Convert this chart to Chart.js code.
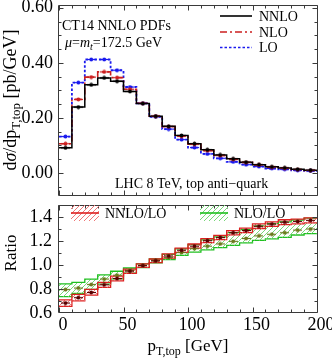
<!DOCTYPE html>
<html><head><meta charset="utf-8">
<script src="https://cdn.jsdelivr.net/npm/chart.js@4/dist/chart.umd.min.js"></script>
<style>
html,body{margin:0;padding:0;background:#fff;}
#wrap{position:relative;width:332px;height:358px;overflow:hidden;}
canvas{position:absolute;left:0;}
#c1{top:0;} #c2{top:200px;}
</style></head><body>
<div id="wrap"><canvas id="c1" width="332" height="201"></canvas><canvas id="c2" width="332" height="158"></canvas></div>
<script>
// ---- data ----
const binEdges = [0,10,20,30,40,50,60,70,80,90,100,110,120,130,140,150,160,170,180,190,200];
const nnlo = [0.091,0.239,0.320,0.345,0.333,0.296,0.252,0.206,0.169,0.136,0.106,0.084,0.065,0.051,0.039,0.030,0.022,0.018,0.013,0.010];
const nlo  = [0.106,0.267,0.348,0.367,0.346,0.304,0.253,0.206,0.168,0.133,0.104,0.081,0.063,0.049,0.038,0.029,0.021,0.017,0.012,0.009];
const lo   = [0.132,0.328,0.412,0.412,0.373,0.312,0.253,0.204,0.159,0.121,0.092,0.069,0.053,0.040,0.030,0.023,0.016,0.013,0.009,0.007];

const nnloLoCentral = [0.683,0.728,0.771,0.835,0.888,0.949,0.995,1.035,1.075,1.123,1.157,1.203,1.229,1.269,1.288,1.323,1.341,1.357,1.362,1.372];
const nnloLoUpper   = [0.709,0.755,0.797,0.856,0.908,0.966,1.010,1.050,1.092,1.140,1.175,1.220,1.247,1.287,1.307,1.342,1.360,1.377,1.382,1.393];
const nnloLoLower   = [0.656,0.701,0.749,0.813,0.868,0.930,0.980,1.020,1.058,1.106,1.140,1.186,1.211,1.251,1.269,1.304,1.322,1.337,1.342,1.351];
const nloLoCentral  = [0.795,0.808,0.837,0.883,0.915,0.955,0.995,1.035,1.064,1.104,1.136,1.157,1.176,1.197,1.221,1.243,1.256,1.269,1.291,1.300];
const nloLoUpper    = [0.843,0.856,0.883,0.917,0.948,0.975,1.010,1.050,1.088,1.135,1.170,1.210,1.235,1.270,1.295,1.325,1.345,1.360,1.375,1.390];
const nloLoLower    = [0.736,0.763,0.797,0.840,0.885,0.932,0.978,1.018,1.044,1.080,1.108,1.126,1.145,1.163,1.185,1.205,1.218,1.230,1.250,1.262];

const topTicks = [0, 0.2, 0.4, 0.6];
const topTickLabels = ['0.00','0.20','0.40','0.60'];
const topMinor = [-0.05,0.05,0.1,0.15,0.25,0.3,0.35,0.45,0.5,0.55];
const ratioTicks = [0.6, 0.8, 1.0, 1.2, 1.4];
const ratioTickLabels = ['0.6','0.8','1.0','1.2','1.4'];
const ratioMinor = [0.7,0.9,1.1,1.3,1.5];
const xTicks = [0, 50, 100, 150, 200];
const xTickLabels = ['0','50','100','150','200'];
const xMinor = [10,20,30,40,60,70,80,90,110,120,130,140,160,170,180,190];

// ---- helpers ----
const SERIF = "'Liberation Serif','Times New Roman',serif";
function stepPts(vals){ const p = vals.map((v,i)=>({x:binEdges[i], y:v})); p.push({x:binEdges[binEdges.length-1], y:vals[vals.length-1]}); return p; }
function centerPts(vals){ return vals.map((v,i)=>({x:(binEdges[i]+binEdges[i+1])/2, y:v})); }
function marker(color){ const c=document.createElement('canvas'); c.width=9; c.height=5; const g=c.getContext('2d');
  g.strokeStyle=color; g.lineWidth=1.2; g.beginPath(); g.moveTo(0,2.5); g.lineTo(9,2.5); g.stroke();
  g.fillStyle=color; g.beginPath(); g.arc(4.5,2.5,1.9,0,Math.PI*2); g.fill(); return c; }
function hatch(ctx,color){ const c=document.createElement('canvas'); c.width=5; c.height=5; const g=c.getContext('2d');
  g.strokeStyle=color; g.lineWidth=1; g.beginPath(); g.moveTo(-1,6); g.lineTo(6,-1); g.stroke(); return ctx.createPattern(c,'repeat'); }
function rich(ctx, parts, x, y, align){
  let w=0; parts.forEach(p=>{ctx.font=p[1]; w+=ctx.measureText(p[0]).width;});
  let cx = align==='center' ? x-w/2 : (align==='right' ? x-w : x);
  ctx.textAlign='left'; ctx.textBaseline='alphabetic';
  parts.forEach(p=>{ctx.font=p[1]; ctx.fillText(p[0], cx, y+(p[2]||0)); cx+=ctx.measureText(p[0]).width;});
}
function frame(chart, opt){
  const {ctx, chartArea:a, scales} = chart; const xs=scales.x, ys=scales.y;
  ctx.save(); ctx.strokeStyle='#3a3a3a'; ctx.lineWidth=1;
  const L=a.left-0.5, R=a.right+0.5, T=Math.round(a.top)+0.5, B=Math.round(a.bottom)-0.5;
  ctx.beginPath();
  ctx.moveTo(L,T); ctx.lineTo(R,T); ctx.moveTo(L,T); ctx.lineTo(L,B); ctx.moveTo(R,T); ctx.lineTo(R,B);
  if(opt.bottom){ ctx.moveTo(L,B); ctx.lineTo(R,B); }
  const tk=(v,len)=>{ const px=Math.round(xs.getPixelForValue(v))+0.5; ctx.moveTo(px,T); ctx.lineTo(px,T+len); ctx.moveTo(px,B); ctx.lineTo(px,B-len); };
  xTicks.forEach(v=>tk(v,5)); xMinor.forEach(v=>tk(v,3));
  const ty=(v,len)=>{ const py=Math.round(ys.getPixelForValue(v))+0.5; if(py<T||py>B) return; ctx.moveTo(L,py); ctx.lineTo(L+len,py); ctx.moveTo(R,py); ctx.lineTo(R-len,py); };
  opt.yMajor.forEach(v=>ty(v,5)); opt.yMinor.forEach(v=>ty(v,3));
  ctx.stroke(); ctx.restore();
}

const c1 = document.getElementById('c1'), c2 = document.getElementById('c2');
const ctx2 = c2.getContext('2d');
const redHatch = hatch(ctx2, '#f07878');
const greenHatch = hatch(ctx2, '#7ad87a');

const BLACK='#000000', RED='#cc1f1f', BLUE='#1a1aee', RRED='#dd2020', GREEN='#20c020';

// ---- top panel ----
const topPlugin = { id:'topDeco', afterDraw(chart){
  frame(chart, {bottom:true, yMajor:topTicks, yMinor:topMinor});
  const ctx=chart.ctx; ctx.save(); ctx.fillStyle='#000';
  const F=s=>`${s}px ${SERIF}`, FI=s=>`italic ${s}px ${SERIF}`;
  rich(ctx, [['CT14 NNLO PDFs', F(14)]], 62, 30, 'left');
  rich(ctx, [['μ', FI(14)],['=', F(14)],['m', FI(14)],['t', FI(10), 3],['=172.5 GeV', F(14)]], 65, 46.5, 'left');
  rich(ctx, [['LHC 8 TeV, top anti\u2212quark', F(14)]], 115, 187.5, 'left');
  // legend
  const leg=[['NNLO',BLACK,[],16,20.5],['NLO',RED,[7,3,2,3],32,36.5],['LO',BLUE,[2.5,2],47.5,52]];
  leg.forEach(l=>{ ctx.save(); ctx.strokeStyle=l[1]; ctx.lineWidth=1.6; ctx.setLineDash(l[2]); ctx.beginPath(); ctx.moveTo(220,l[3]); ctx.lineTo(252,l[3]); ctx.stroke(); ctx.restore();
    rich(ctx, [[l[0], F(14)]], 259, l[4], 'left'); });
  // y title
  ctx.translate(16, 100); ctx.rotate(-Math.PI/2);
  rich(ctx, [['d', F(18)],['σ', FI(18)],['/dp', F(18)],['T,top', F(13), 4],[' [pb/GeV]', F(18)]], 0, 0, 'center');
  ctx.restore();
}};

new Chart(c1, {
  type:'line',
  data:{ datasets:[
    {data:centerPts(nnlo), showLine:false, pointStyle:marker(BLACK), pointRadius:4, pointHoverRadius:4},
    {data:centerPts(nlo), showLine:false, pointStyle:marker(RED), pointRadius:4, pointHoverRadius:4},
    {data:centerPts(lo), showLine:false, pointStyle:marker(BLUE), pointRadius:4, pointHoverRadius:4},
    {data:stepPts(nnlo), stepped:'before', borderColor:BLACK, borderWidth:1.5, pointRadius:0, fill:false},
    {data:stepPts(nlo), stepped:'before', borderColor:RED, borderWidth:1.6, borderDash:[7,3,2,3], pointRadius:0, fill:false},
    {data:stepPts(lo), stepped:'before', borderColor:BLUE, borderWidth:1.8, borderDash:[2.5,2], pointRadius:0, fill:false}
  ]},
  options:{
    responsive:false, animation:false, devicePixelRatio:1,
    layout:{padding:{left:0,right:15,top:4,bottom:0}},
    plugins:{legend:{display:false}, tooltip:{enabled:false}},
    events:[],
    scales:{
      x:{type:'linear', min:0, max:200, display:false},
      y:{type:'linear', min:-0.084, max:0.61,
         afterFit(s){ s.width=59; s.paddingTop=0; s.paddingBottom=0; },
         afterBuildTicks(s){ s.ticks = topTicks.map(v=>({value:v})); },
         ticks:{callback:(v,i)=>topTickLabels[i], font:{family:SERIF, size:18}, color:'#000', padding:6},
         grid:{display:false, drawTicks:false}, border:{display:false}}
    }
  },
  plugins:[topPlugin]
});

// ---- ratio panel ----
const botPlugin = { id:'botDeco', afterDraw(chart){
  frame(chart, {bottom:true, yMajor:ratioTicks, yMinor:ratioMinor});
  const ctx=chart.ctx; ctx.save(); ctx.fillStyle='#000';
  const F=s=>`${s}px ${SERIF}`;
  // legend
  const leg=[[71,redHatch,RRED,'NNLO/LO',105],[200,greenHatch,GREEN,'NLO/LO',234]];
  leg.forEach(l=>{ ctx.fillStyle=l[1]; ctx.fillRect(l[0],5,28,16); ctx.strokeStyle=l[2]; ctx.lineWidth=1.6; ctx.beginPath(); ctx.moveTo(l[0],13); ctx.lineTo(l[0]+28,13); ctx.stroke();
    ctx.fillStyle='#000'; rich(ctx, [[l[3], F(14)]], l[4], 18, 'left'); });
  // x title
  rich(ctx, [['p', F(17)],['T,top', F(12), 4],[' [GeV]', F(17)]], 188, 151, 'center');
  // y title
  ctx.translate(16, 53); ctx.rotate(-Math.PI/2);
  rich(ctx, [['Ratio', F(17)]], 0, 0, 'center');
  ctx.restore();
}};

new Chart(c2, {
  type:'line',
  data:{ datasets:[
    {data:centerPts(nnloLoCentral), showLine:false, pointStyle:marker('#5a0000'), pointRadius:4, pointHoverRadius:4},
    {data:centerPts(nloLoCentral), showLine:false, pointStyle:marker('#6d7a1e'), pointRadius:4, pointHoverRadius:4},
    {data:stepPts(nnloLoUpper), stepped:'before', borderColor:RRED, borderWidth:1.3, pointRadius:0, fill:'+1', backgroundColor:redHatch},
    {data:stepPts(nnloLoLower), stepped:'before', borderColor:RRED, borderWidth:1.3, pointRadius:0, fill:false},
    {data:stepPts(nloLoUpper), stepped:'before', borderColor:GREEN, borderWidth:1.3, pointRadius:0, fill:'+1', backgroundColor:greenHatch},
    {data:stepPts(nloLoLower), stepped:'before', borderColor:GREEN, borderWidth:1.3, pointRadius:0, fill:false}
  ]},
  options:{
    responsive:false, animation:false, devicePixelRatio:1,
    layout:{padding:{left:0,right:15,top:1,bottom:0}},
    plugins:{legend:{display:false}, tooltip:{enabled:false}, filler:{propagate:false}},
    events:[],
    scales:{
      x:{type:'linear', min:0, max:200,
         afterFit(s){ s.height=45; s.paddingLeft=0; s.paddingRight=0; },
         afterBuildTicks(s){ s.ticks = xTicks.map(v=>({value:v})); },
         ticks:{callback:(v,i)=>xTickLabels[i], font:{family:SERIF, size:18}, color:'#000', padding:1, labelOffset:4, autoSkip:false, maxRotation:0},
         grid:{display:false, drawTicks:false}, border:{display:false}},
      y:{type:'linear', min:0.6, max:1.5,
         afterFit(s){ s.width=59; s.paddingTop=0; s.paddingBottom=0; },
         afterBuildTicks(s){ s.ticks = ratioTicks.map(v=>({value:v})); },
         ticks:{callback:(v,i)=>ratioTickLabels[i], font:{family:SERIF, size:18}, color:'#000', padding:7},
         grid:{display:false, drawTicks:false}, border:{display:false}}
    }
  },
  plugins:[botPlugin]
});
</script>
</body></html>
